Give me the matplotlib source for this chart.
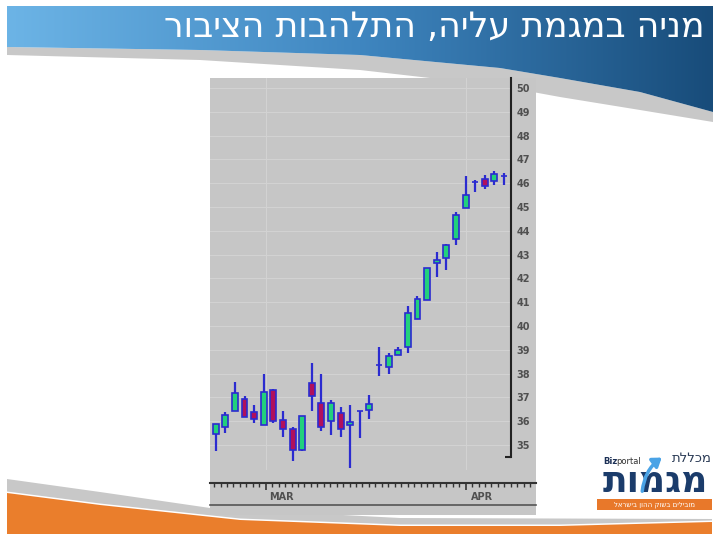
import numpy as np
import matplotlib
matplotlib.use("Agg")
import matplotlib.pyplot as plt
from matplotlib.patches import Polygon, Rectangle, FancyArrowPatch
from matplotlib.ticker import MultipleLocator

# candle data (one per trading day)
opens = [35.46, 35.77, 36.44, 36.95, 36.38, 35.85, 37.33, 36.07, 35.66, 34.79,
         37.61, 36.77, 35.99, 36.35, 35.82, 36.44, 36.47, 38.36, 38.28, 38.80,
         39.12, 40.30, 41.10, 42.65, 42.85, 43.66, 44.96, 46.03, 46.17, 46.08, 46.31]
highs = [35.90, 36.40, 37.65, 37.05, 36.66, 38.00, 37.35, 36.44, 35.74, 36.21,
         38.45, 38.00, 36.88, 36.58, 36.67, 36.44, 37.11, 39.12, 38.87, 39.12,
         40.82, 41.24, 42.45, 43.13, 43.45, 44.79, 46.31, 46.15, 46.34, 46.51, 46.44]
lows = [34.76, 35.49, 36.44, 36.19, 35.91, 35.85, 35.91, 35.32, 34.34, 34.76,
        36.44, 35.57, 35.43, 35.35, 34.02, 35.28, 36.10, 37.89, 38.00, 38.80,
        38.87, 40.30, 41.10, 42.04, 42.37, 43.42, 44.96, 45.61, 45.75, 45.92, 45.92]
closes = [35.88, 36.28, 37.19, 36.19, 36.10, 37.22, 36.02, 35.66, 34.79, 36.21,
          37.08, 35.77, 36.77, 35.68, 35.98, 36.44, 36.74, 38.36, 38.73, 39.00,
          40.54, 41.14, 42.42, 42.77, 43.41, 44.65, 45.49, 46.03, 45.89, 46.38, 46.31]
price_ticks = list(range(35, 51))
month_labels = ["MAR", "APR"]
month_days = [0, 31]          # calendar days from Mar 1
month_idx = [5.2, 26.0]       # same dates on the trading-day axis

title = "מניה במגמת עליה, התלהבות הציבור"
logo_small = "מכללת"
logo_big = "מגמות"
logo_tag = "מובילים בשוק ההון בישראל"

W, H = 720, 540
fig = plt.figure(figsize=(7.2, 5.4), dpi=100)
fig.patch.set_facecolor("white")

def px_axes(x0, y0, x1, y1):
    return fig.add_axes([x0 / W, 1 - y1 / H, (x1 - x0) / W, (y1 - y0) / H])

# ---- slide decoration (pixel coordinates) ----
bg = fig.add_axes([0, 0, 1, 1])
bg.set_xlim(0, W)
bg.set_ylim(H, 0)
bg.axis("off")

bar_bottom = [(713, 112), (640, 92), (560, 78), (500, 68), (360, 55), (200, 50), (7, 47)]
gray_bottom = [(7, 55), (200, 60), (360, 70), (500, 86), (560, 97), (640, 110), (713, 122)]
bg.add_patch(Polygon(bar_bottom + gray_bottom, closed=True, fc="#c8c8c8", ec="none"))
bar_poly = Polygon([(7, 6), (713, 6)] + bar_bottom, closed=True, fc="none", ec="none")
bg.add_patch(bar_poly)
grad = np.linspace(0, 1, 256).reshape(1, -1)
cmap = matplotlib.colors.LinearSegmentedColormap.from_list(
    "bar", ["#6cb4e6", "#3f86c0", "#184c7a"])
im = bg.imshow(grad, cmap=cmap, extent=[7, 713, 112, 6], aspect="auto", zorder=1)
im.set_clip_path(bar_poly)
bg.set_xlim(0, W)
bg.set_ylim(H, 0)
bg.text(705, 27, title[::-1], color="white", fontsize=25, ha="right", va="center",
        family="DejaVu Sans", zorder=3)

# bottom swoosh
gray_top = [(7, 479), (100, 492), (210, 508), (400, 518), (712, 519)]
orange_top = [(712, 522), (560, 526), (400, 526), (240, 520), (100, 505), (7, 493)]
bg.add_patch(Polygon(gray_top + [(712, 521)] + [(x, y - 1.5) for x, y in orange_top],
                     closed=True, fc="#c8c8c8", ec="none"))
bg.add_patch(Polygon(orange_top + [(7, 534), (712, 534)], closed=True, fc="#ea7e2c", ec="none"))

# logo
bg.text(712, 459, logo_small[::-1], fontsize=9.5, color="#2a3a55", ha="right", va="center")
bg.text(603, 461, "Biz", fontsize=6, color="#1b2f55", weight="bold", ha="left", va="center")
bg.text(616, 461, "portal", fontsize=6, color="#333333", ha="left", va="center")
bg.text(655, 499.5, logo_big[::-1], fontsize=26, color="#1b3c6b", weight="bold",
        ha="center", va="bottom")
bg.add_patch(FancyArrowPatch((642, 494), (664, 456), connectionstyle="arc3,rad=-0.25",
                             arrowstyle="-|>,head_length=5,head_width=3.5",
                             color="#4aa3e6", lw=2.5, zorder=4))
bg.add_patch(Rectangle((597, 499), 115, 11, fc="#e8782a", ec="none"))
bg.text(654, 504.5, logo_tag[::-1], fontsize=5, color="white", ha="center", va="center")

# chart background image area
bg.add_patch(Rectangle((210, 78), 326, 437, fc="#c6c6c6", ec="none", zorder=2))

# ---- candlestick panel ----
ax = px_axes(210, 78, 511, 470)
ax.set_facecolor("none")
x = np.arange(len(opens))
o = np.array(opens); c = np.array(closes)
up = c >= o
ax.vlines(x, lows, highs, color="#2b2bd0", lw=1.6, zorder=3)
ax.bar(x, np.abs(c - o), bottom=np.minimum(o, c), width=0.62,
       color=np.where(up, "#22d07c", "#b0105c"), edgecolor="#2b2bd0", lw=1.2, zorder=4)
ax.set_xlim(-0.59, 30.73)
ax.set_ylim(33.95, 50.42)
for p in price_ticks:
    ax.axhline(p, color="#d2d2d2", lw=0.8, zorder=1)
for m in month_idx:
    ax.axvline(m, color="#d2d2d2", lw=0.8, zorder=1)
for s in ["left", "top", "bottom"]:
    ax.spines[s].set_visible(False)
ax.spines["right"].set_color("#222222")
ax.spines["right"].set_linewidth(1.5)
ax.spines["right"].set_bounds(34.5, 50.42)
ax.set_xticks([])
ax.yaxis.tick_right()
ax.set_yticks(price_ticks)
ax.set_yticks([34.5], minor=True)
ax.tick_params(axis="y", which="major", length=0, pad=4, labelsize=7, labelcolor="#505050")
ax.tick_params(axis="y", which="minor", length=4, width=1.5, direction="in", color="#222222")
for lab in ax.get_yticklabels():
    lab.set_fontweight("bold")

# ---- date strip ----
ax2 = px_axes(210, 483, 536, 505)
ax2.set_facecolor("none")
ax2.set_xlim(-8.64, 41.9)
ax2.set_ylim(0, 1)
ax2.spines["left"].set_visible(False)
ax2.spines["right"].set_visible(False)
ax2.spines["top"].set_color("#333333")
ax2.spines["top"].set_linewidth(1.5)
ax2.spines["bottom"].set_color("#555555")
ax2.spines["bottom"].set_linewidth(1.2)
ax2.xaxis.tick_top()
ax2.set_xticks(month_days)
ax2.xaxis.set_minor_locator(MultipleLocator(1))
ax2.tick_params(axis="x", which="major", direction="in", length=5, width=1.2,
                color="#333333", labeltop=False)
ax2.tick_params(axis="x", which="minor", direction="in", length=3, width=1,
                color="#333333")
ax2.set_yticks([])
for d, lab in zip(month_days, month_labels):
    ax2.text(d + 2.5, 0.38, lab, fontsize=7, weight="bold", color="#505050",
             ha="center", va="center")

fig.savefig("out.png", dpi=100)
